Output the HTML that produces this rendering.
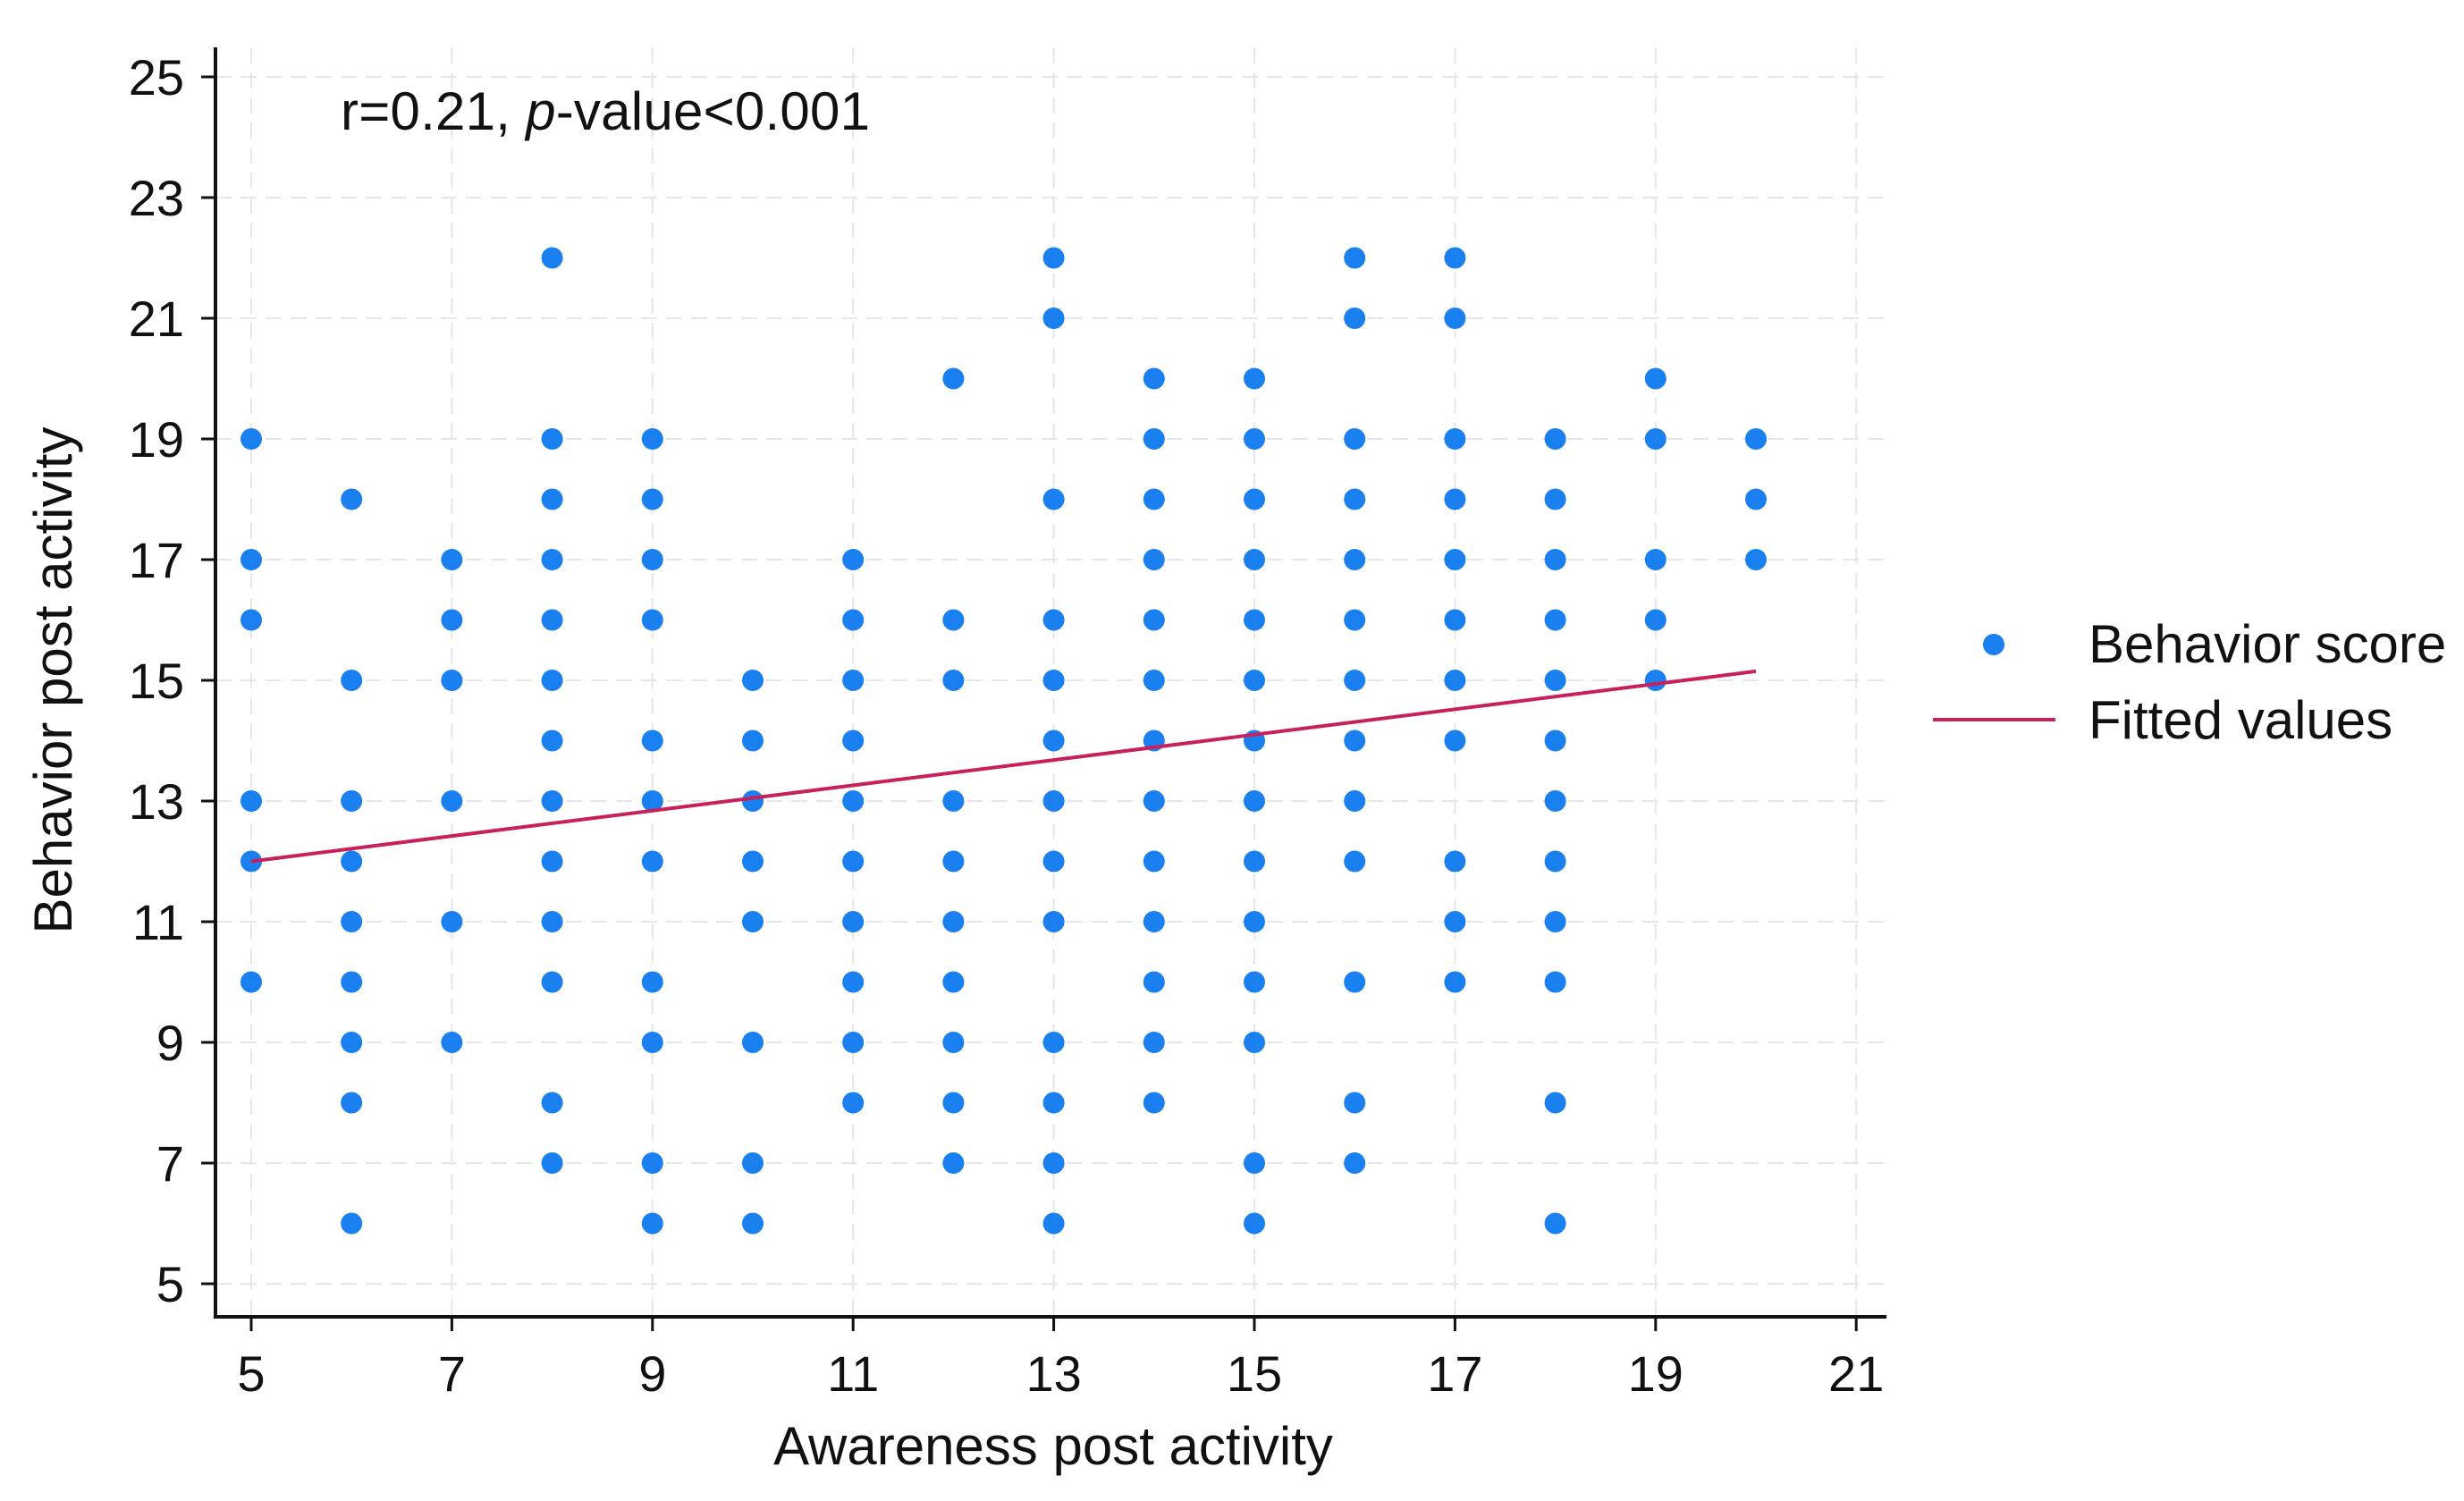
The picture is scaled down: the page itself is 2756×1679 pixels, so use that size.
<!DOCTYPE html>
<html><head><meta charset="utf-8"><style>
body{margin:0;background:#fff;}
svg text{font-family:"Liberation Sans",sans-serif;fill:#111;}
</style></head><body>
<svg id="chart" width="2756" height="1674" viewBox="0 0 2756 1674" xmlns="http://www.w3.org/2000/svg">
<g id="grid"></g>
<g id="axes"></g>
<g id="points"></g>
<g id="fit"></g>
<text x="381" y="145" font-size="60" textLength="592">r=0.21, <tspan font-style="italic">p</tspan>-value&lt;0.001</text>
<text x="1178" y="1638" font-size="60" text-anchor="middle">Awareness post activity</text>
<text transform="translate(80,761) rotate(-90)" font-size="60" text-anchor="middle">Behavior post activity</text>
<g>
<circle cx="2230" cy="721" r="12" fill="#1a80f0"/>
<text x="2336" y="741" font-size="60">Behavior score</text>
<line x1="2162" y1="805" x2="2299" y2="805" stroke="#c8205c" stroke-width="4"/>
<text x="2336" y="826" font-size="60">Fitted values</text>
</g>
</svg>
<script>
const xValues=[5,6,7,8,9,10,11,12,13,14,15,16,17,18,19,20];
const yByX=[
[19,17,16,13,12,10],
[18,15,13,12,11,10,9,8,6],
[17,16,15,13,11,9],
[22,19,18,17,16,15,14,13,12,11,10,8,7],
[19,18,17,16,14,13,12,10,9,7,6],
[15,14,13,12,11,9,7,6],
[17,16,15,14,13,12,11,10,9,8],
[20,16,15,13,12,11,10,9,8,7],
[22,21,18,16,15,14,13,12,11,9,8,7,6],
[20,19,18,17,16,15,14,13,12,11,10,9,8],
[20,19,18,17,16,15,14,13,12,11,10,9,7,6],
[22,21,19,18,17,16,15,14,13,12,10,8,7],
[22,21,19,18,17,16,15,14,12,11,10],
[19,18,17,16,15,14,13,12,11,10,8,6],
[20,19,17,16,15],
[19,18,17]
];
const xTicks=[5,7,9,11,13,15,17,19,21];
const yTicks=[5,7,9,11,13,15,17,19,21,23,25];
const fitX=[5,20];
const fitY=[12.0,15.15];

const NS="http://www.w3.org/2000/svg";
const X=v=>281+(v-5)*112.2;
const Y=v=>1436-(v-5)*67.5;
function mk(tag,attrs,parent){const e=document.createElementNS(NS,tag);for(const k in attrs)e.setAttribute(k,attrs[k]);parent.appendChild(e);return e;}
const grid=document.getElementById('grid'),axes=document.getElementById('axes'),pts=document.getElementById('points'),fit=document.getElementById('fit');
xTicks.forEach(t=>{
  const g=mk('line',{x1:X(t),x2:X(t),y1:53,y2:1473,stroke:'#e6e6e6','stroke-width':2,'stroke-dasharray':'18 10'},grid);
  
  
  const tk=mk('line',{x1:X(t),x2:X(t),y1:1473,y2:1489,stroke:'#111','stroke-width':3},axes);
  
  
  const lb=mk('text',{x:X(t),y:1556,'font-size':56,'text-anchor':'middle'},axes);
  lb.textContent=t;
  
  
});
yTicks.forEach(t=>{
  const g=mk('line',{x1:241,x2:2110,y1:Y(t),y2:Y(t),stroke:'#e6e6e6','stroke-width':2,'stroke-dasharray':'18 10'},grid);
  
  
  const tk=mk('line',{x1:225,x2:241,y1:Y(t),y2:Y(t),stroke:'#111','stroke-width':3},axes);
  
  
  const lb=mk('text',{x:206,y:Y(t)+20,'font-size':56,'text-anchor':'end'},axes);
  lb.textContent=t;
  
  
});
const ax=mk('path',{d:'M241 53 V1473 H2110',fill:'none',stroke:'#111','stroke-width':4},axes);


xValues.forEach((xv,i)=>{
  yByX[i].forEach(yv=>{
    const c=mk('circle',{cx:X(xv),cy:Y(yv),r:12,fill:'#1a80f0'},pts);
    
    
  });
});
const fl=mk('line',{x1:X(fitX[0]),y1:Y(fitY[0]),x2:X(fitX[1]),y2:Y(fitY[1]),stroke:'#c8205c','stroke-width':4},fit);


</script>
</body></html>
